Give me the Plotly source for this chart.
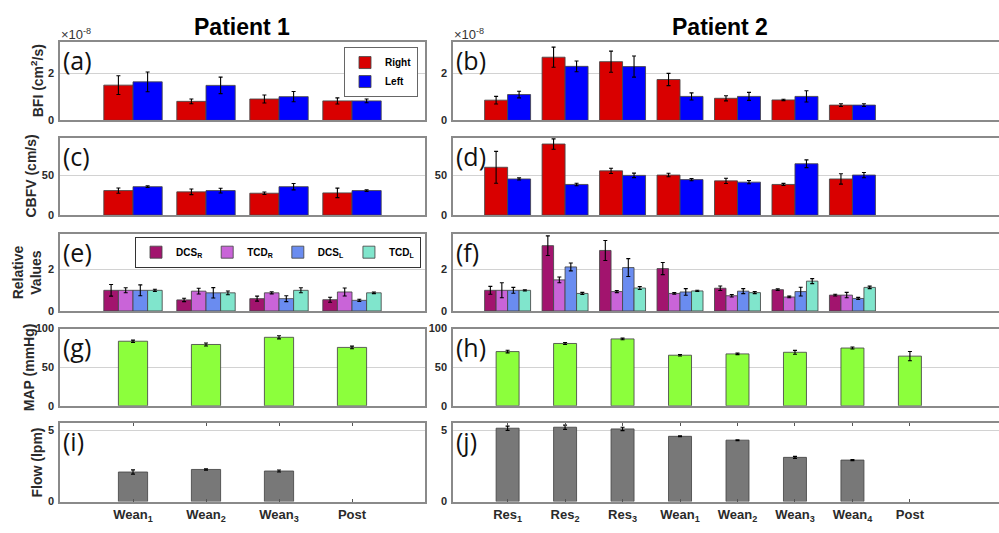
import plotly.graph_objects as go

W, H = 999, 533

# ---------------- data ----------------
p1_cats = ["Wean<sub>1</sub>", "Wean<sub>2</sub>", "Wean<sub>3</sub>", "Post"]
p2_cats = ["Res<sub>1</sub>", "Res<sub>2</sub>", "Res<sub>3</sub>", "Wean<sub>1</sub>",
           "Wean<sub>2</sub>", "Wean<sub>3</sub>", "Wean<sub>4</sub>", "Post"]

# BFI (x1e-8 cm^2/s)
p1_bfi_right = [1.50, 0.81, 0.91, 0.83]
p1_bfi_right_err = [0.40, 0.10, 0.17, 0.13]
p1_bfi_left = [1.64, 1.49, 1.01, 0.83]
p1_bfi_left_err = [0.42, 0.35, 0.22, 0.08]
p2_bfi_right = [0.86, 2.69, 2.50, 1.74, 0.94, 0.87, 0.65]
p2_bfi_right_err = [0.16, 0.43, 0.45, 0.26, 0.11, 0.03, 0.06]
p2_bfi_left = [1.10, 2.30, 2.29, 1.02, 1.02, 1.02, 0.65]
p2_bfi_left_err = [0.14, 0.23, 0.45, 0.15, 0.17, 0.24, 0.06]

# CBFV (cm/s)
p1_cbfv_right = [30.9, 29.3, 27.6, 28.0]
p1_cbfv_right_err = [3.3, 3.5, 1.6, 6.0]
p1_cbfv_left = [35.8, 30.9, 35.8, 30.9]
p1_cbfv_left_err = [1.0, 3.0, 4.0, 1.0]
p2_cbfv_right = [60.2, 89.4, 55.7, 50.4, 43.1, 38.6, 45.5]
p2_cbfv_right_err = [20.0, 6.5, 3.3, 2.2, 3.3, 1.4, 6.5]
p2_cbfv_left = [45.5, 38.6, 50.0, 44.7, 41.5, 64.6, 50.4]
p2_cbfv_left_err = [1.4, 1.6, 2.8, 1.4, 2.0, 4.9, 3.3]

# Relative values
p1_dcs_r = [0.99, 0.53, 0.59, 0.54]
p1_dcs_r_err = [0.28, 0.08, 0.12, 0.12]
p1_tcd_r = [0.99, 0.95, 0.87, 0.91]
p1_tcd_r_err = [0.12, 0.14, 0.05, 0.19]
p1_dcs_l = [0.99, 0.87, 0.59, 0.51]
p1_dcs_l_err = [0.26, 0.25, 0.14, 0.05]
p1_tcd_l = [0.99, 0.87, 0.99, 0.87]
p1_tcd_l_err = [0.05, 0.09, 0.12, 0.04]
p2_dcs_r = [0.99, 3.13, 2.90, 2.03, 1.09, 1.02, 0.76]
p2_dcs_r_err = [0.19, 0.47, 0.48, 0.29, 0.11, 0.04, 0.04]
p2_tcd_r = [0.99, 1.49, 0.93, 0.84, 0.73, 0.67, 0.76]
p2_tcd_r_err = [0.36, 0.14, 0.05, 0.04, 0.06, 0.04, 0.13]
p2_dcs_l = [0.99, 2.11, 2.08, 0.91, 0.95, 0.93, 0.60]
p2_dcs_l_err = [0.14, 0.19, 0.43, 0.16, 0.12, 0.21, 0.05]
p2_tcd_l = [0.99, 0.84, 1.10, 0.96, 0.88, 1.43, 1.13]
p2_tcd_l_err = [0.03, 0.05, 0.07, 0.03, 0.05, 0.12, 0.06]

# MAP (mmHg)
p1_map = [83.6, 79.4, 88.7, 75.6]
p1_map_err = [1.5, 2.0, 2.0, 1.7]
p2_map = [70.2, 80.7, 86.6, 65.5, 67.2, 69.3, 74.8, 64.3]
p2_map_err = [1.7, 1.3, 1.0, 1.0, 1.0, 2.5, 1.3, 6.0]

# Flow (lpm)
p1_flow = [2.08, 2.26, 2.15, None]
p1_flow_err = [0.15, 0.05, 0.07, 0]
p2_flow = [5.16, 5.23, 5.11, 4.59, 4.32, 3.11, 2.92, None]
p2_flow_err = [0.15, 0.15, 0.12, 0.03, 0.03, 0.07, 0.04, 0]

# -------------- styling ---------------
C_RED = "#D90000"
C_BLUE = "#0000FF"
C_DCSR = "#A2146E"
C_TCDR = "#C964D8"
C_DCSL = "#6A8CF0"
C_TCDL = "#80E5CC"
C_GREEN = "#8CFF3C"
C_GRAY = "#787878"
EDGE = "rgba(70,70,70,0.85)"
FONT = "Liberation Sans"

fig = go.Figure()

def ax_id(r, c):
    k = r * 2 + c + 1
    return ("x" if k == 1 else f"x{k}"), ("y" if k == 1 else f"y{k}")

def add_bar(r, c, cats, vals, errs, color, name=None, legend=None, width=None):
    xa, ya = ax_id(r, c)
    kw = {}
    if width is not None:
        kw["width"] = width
    fig.add_trace(go.Bar(
        x=cats[:len(vals)], y=vals, xaxis=xa, yaxis=ya,
        marker=dict(color=color, line=dict(color=EDGE, width=1)),
        error_y=dict(type="data", array=errs, color="black", thickness=1.1, width=2),
        name=name or "", showlegend=legend is not None,
        legend=legend or "legend", **kw))

# row 0: BFI
add_bar(0, 0, p1_cats, p1_bfi_right, p1_bfi_right_err, C_RED, "Right", "legend")
add_bar(0, 0, p1_cats, p1_bfi_left, p1_bfi_left_err, C_BLUE, "Left", "legend")
add_bar(0, 1, p2_cats, p2_bfi_right, p2_bfi_right_err, C_RED)
add_bar(0, 1, p2_cats, p2_bfi_left, p2_bfi_left_err, C_BLUE)
# row 1: CBFV
add_bar(1, 0, p1_cats, p1_cbfv_right, p1_cbfv_right_err, C_RED)
add_bar(1, 0, p1_cats, p1_cbfv_left, p1_cbfv_left_err, C_BLUE)
add_bar(1, 1, p2_cats, p2_cbfv_right, p2_cbfv_right_err, C_RED)
add_bar(1, 1, p2_cats, p2_cbfv_left, p2_cbfv_left_err, C_BLUE)
# row 2: relative
add_bar(2, 0, p1_cats, p1_dcs_r, p1_dcs_r_err, C_DCSR, "DCS<sub>R</sub>", "legend2")
add_bar(2, 0, p1_cats, p1_tcd_r, p1_tcd_r_err, C_TCDR, "TCD<sub>R</sub>", "legend2")
add_bar(2, 0, p1_cats, p1_dcs_l, p1_dcs_l_err, C_DCSL, "DCS<sub>L</sub>", "legend2")
add_bar(2, 0, p1_cats, p1_tcd_l, p1_tcd_l_err, C_TCDL, "TCD<sub>L</sub>", "legend2")
add_bar(2, 1, p2_cats, p2_dcs_r, p2_dcs_r_err, C_DCSR)
add_bar(2, 1, p2_cats, p2_tcd_r, p2_tcd_r_err, C_TCDR)
add_bar(2, 1, p2_cats, p2_dcs_l, p2_dcs_l_err, C_DCSL)
add_bar(2, 1, p2_cats, p2_tcd_l, p2_tcd_l_err, C_TCDL)
# row 3: MAP
add_bar(3, 0, p1_cats, p1_map, p1_map_err, C_GREEN, width=0.4)
add_bar(3, 1, p2_cats, p2_map, p2_map_err, C_GREEN, width=0.4)
# row 4: Flow
add_bar(4, 0, p1_cats, p1_flow, p1_flow_err, C_GRAY, width=0.4)
add_bar(4, 1, p2_cats, p2_flow, p2_flow_err, C_GRAY, width=0.4)

# -------------- layout ----------------
rows_px = [(37, 117), (135, 214), (233, 312), (330, 409), (427, 507)]
cols_px = [(60, 425), (453, 999)]
y_ranges = [[0, 3.33], [0, 97], [0, 3.7], [0, 100], [0, 5.5]]
y_ticks = [[0, 2], [0, 50], [0, 2], [0, 50, 100], [0, 5]]
x_ranges = [[-1, 4], [-0.95, 8.55]]
cat_lists = [p1_cats, p2_cats]

layout = {}
for r in range(5):
    for c in range(2):
        k = r * 2 + c + 1
        xk = "xaxis" if k == 1 else f"xaxis{k}"
        yk = "yaxis" if k == 1 else f"yaxis{k}"
        xa, ya = ax_id(r, c)
        bottom = (r == 4)
        layout[xk] = dict(
            domain=[cols_px[c][0] / W, cols_px[c][1] / W],
            anchor=ya, type="category",
            categoryorder="array", categoryarray=cat_lists[c],
            range=x_ranges[c], showgrid=False, zeroline=False,
            showline=True, linecolor="#8a8a8a", linewidth=1.5,
            mirror="ticks" if bottom else True,
            ticks="inside" if bottom else "", ticklen=3, tickcolor="#555",
            showticklabels=bottom,
            tickfont=dict(family=FONT, size=13, color="#2a2a2a", weight="bold"),
            fixedrange=True)
        layout[yk] = dict(
            domain=[1 - rows_px[r][1] / H, 1 - rows_px[r][0] / H],
            anchor=xa, range=y_ranges[r], tickvals=y_ticks[r],
            showgrid=True, gridcolor="#d2d2d2", gridwidth=1, zeroline=False,
            showline=True, linecolor="#8a8a8a", linewidth=1.5,
            mirror=(c == 0), ticks="",
            tickfont=dict(family=FONT, size=11, color="#2a2a2a", weight="bold"),
            ticklabelstandoff=2, fixedrange=True)

ann = []
labels = ["(a)", "(b)", "(c)", "(d)", "(e)", "(f)", "(g)", "(h)", "(i)", "(j)"]
for r in range(5):
    for c in range(2):
        k = r * 2 + c + 1
        ann.append(dict(text=labels[k - 1], xref="paper", yref="paper",
                        x=(cols_px[c][0] + 1) / W, y=1 - (rows_px[r][0] - 1) / H,
                        xanchor="left", yanchor="top", showarrow=False,
                        font=dict(family="Open Sans", size=25, color="#111")))

ytitles = ["BFI (cm<sup>2</sup>/s)", "CBFV (cm/s)", "Relative<br>Values", "MAP (mmHg)", "Flow (lpm)"]
ytitle_x = [37, 31, 27, 29, 37]
for r in range(5):
    ann.append(dict(text=ytitles[r], xref="paper", yref="paper",
                    x=ytitle_x[r] / W, y=1 - (rows_px[r][0] + rows_px[r][1]) / 2 / H,
                    xanchor="center", yanchor="middle", textangle=-90, showarrow=False,
                    font=dict(family=FONT, size=14, color="#2a2a2a", weight="bold")))

ann.append(dict(text="Patient 1", xref="paper", yref="paper", x=242 / W, y=1 - 21 / H,
                xanchor="center", yanchor="middle", showarrow=False,
                font=dict(family=FONT, size=23, color="black", weight="bold")))
ann.append(dict(text="Patient 2", xref="paper", yref="paper", x=720 / W, y=1 - 21 / H,
                xanchor="center", yanchor="middle", showarrow=False,
                font=dict(family=FONT, size=23, color="black", weight="bold")))
for cx in (59, 452):
    ann.append(dict(text="×10<sup>-8</sup>", xref="paper", yref="paper", x=cx / W, y=1 - 29 / H,
                    xanchor="left", yanchor="middle", showarrow=False,
                    font=dict(family=FONT, size=13, color="#333")))

fig.update_layout(
    width=W, height=H, margin=dict(l=0, r=0, t=0, b=0),
    paper_bgcolor="white", plot_bgcolor="white",
    barmode="group", bargap=0.2, bargroupgap=0,
    annotations=ann,
    legend=dict(x=418 / W, xanchor="right", y=1 - 42 / H, yanchor="top",
                bgcolor="white", bordercolor="#666", borderwidth=1,
                font=dict(family=FONT, size=10, color="black", weight="bold"),
                itemwidth=30, tracegroupgap=0, traceorder="normal"),
    legend2=dict(orientation="h", x=421 / W, xanchor="right", y=1 - 236 / H, yanchor="top",
                 bgcolor="white", bordercolor="#333", borderwidth=1,
                 font=dict(family=FONT, size=10, color="black", weight="bold"),
                 itemwidth=30, traceorder="normal"),
    **layout)

fig.write_html("out.html")
